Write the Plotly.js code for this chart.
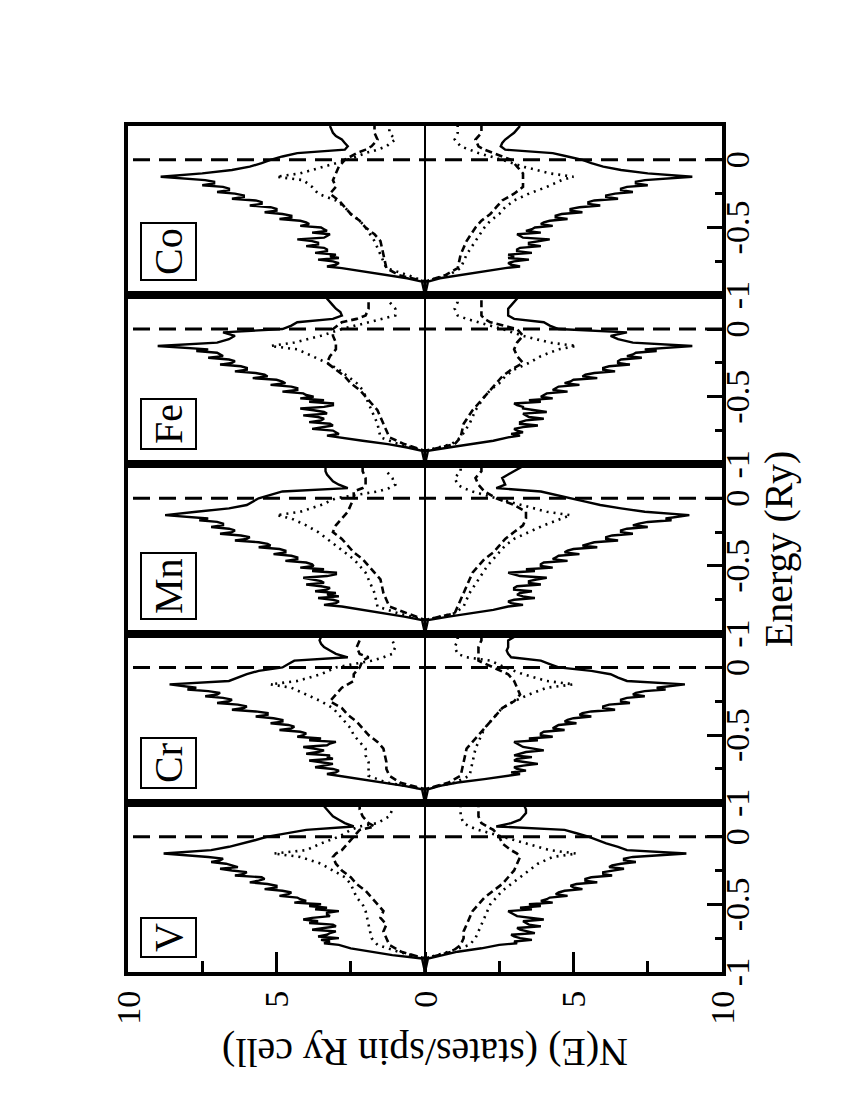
<!DOCTYPE html>
<html>
<head>
<meta charset="utf-8">
<script src="https://cdn.plot.ly/plotly-3.0.1.min.js"></script>
<style>
  html, body { margin: 0; padding: 0; width: 850px; height: 1100px; overflow: hidden; background: #fff; }
  #wrap { position: absolute; left: 0; top: 0; width: 1100px; height: 850px;
          transform-origin: 0 0; transform: translate(0px, 1100px) rotate(-90deg); }
</style>
</head>
<body>
<div id="wrap"></div>
<script>
// ---------------- data (energy in Ry, N(E) in states/spin Ry cell) ----------------
const metals = ['V', 'Cr', 'Mn', 'Fe', 'Co'];
const energyTickVals = [-1, -0.5, 0];
const energyTickText = ['-1', '-0.5', '0'];
const nTickVals = [-10, -5, 0, 5, 10];
const nTickText = ['10', '5', '0', '5', '10'];
const fermiEnergy = 0;

const E_FINE = [-1.0, -0.9, -0.875, -0.85, -0.825,
  -0.8, -0.7875, -0.775, -0.7625, -0.75, -0.7375, -0.725, -0.7125, -0.7, -0.6875, -0.675, -0.6625,
  -0.65, -0.6375, -0.625, -0.6125, -0.6, -0.5875, -0.575, -0.5625, -0.55, -0.5375, -0.525, -0.5125,
  -0.5, -0.4875, -0.475, -0.4625, -0.45, -0.4375, -0.425, -0.4125, -0.4, -0.3875, -0.375, -0.3625,
  -0.35, -0.3375, -0.325, -0.3125, -0.3, -0.2875, -0.275, -0.2625, -0.25, -0.2375, -0.225, -0.2125,
  -0.2, -0.1875, -0.175, -0.1625, -0.15,
  -0.125, -0.1, -0.075, -0.05, -0.025, 0, 0.025, 0.05, 0.075, 0.1, 0.125, 0.15, 0.175, 0.2, 0.225, 0.25];
const E_COARSE = [-1.0, -0.9, -0.85, -0.8, -0.75, -0.7, -0.65, -0.6, -0.55, -0.5, -0.45, -0.4, -0.35,
  -0.3, -0.25, -0.2, -0.15, -0.125, -0.1, -0.05, 0, 0.05, 0.075, 0.1, 0.15, 0.2, 0.25];

// V
const V_up = [0, 0.1, 1.1, 1.8, 2.5,
  2.9, 3.4, 3.2, 3.5, 2.9, 3.6, 3.3, 3.2, 3.0, 3.8, 3.4, 3.0, 3.1, 3.9, 3.6, 4.1, 3.8, 3.2, 3.3, 3.3, 2.9, 3.7,
  3.3, 3.9, 3.5, 4.4, 4.0, 4.2, 4.3, 4.9, 4.6, 4.5, 4.8, 5.4, 5.0, 5.0, 5.3, 5.9, 5.6, 5.4, 5.5, 6.4, 6.1, 6.0,
  6.5, 6.9, 6.3, 6.5, 6.7, 7.2, 6.9, 6.8, 7.3,
  8.8, 7.2, 6.6, 6.1, 5.7, 5.3, 4.7, 4.0, 2.4, 2.7, 2.9, 3.1, 3.2, 3.3, 3.4, 3.45];
const V_dn = [0, 0.1, 0.6, 1.1, 1.9,
  2.5, 3.1, 3.0, 3.6, 3.2, 3.0, 2.9, 3.7, 3.4, 3.2, 3.1, 3.9, 3.5, 3.4, 3.3, 4.0, 3.6, 3.1, 3.0, 2.9, 2.8, 3.6,
  3.2, 3.9, 3.5, 4.3, 3.9, 4.1, 4.2, 4.8, 4.4, 4.5, 4.7, 5.3, 5.0, 4.9, 5.1, 5.8, 5.4, 5.4, 5.6, 6.3, 6.0, 6.0,
  6.3, 6.7, 6.2, 6.3, 6.6, 7.1, 6.7, 6.7, 7.0,
  8.8, 6.8, 6.5, 6.1, 5.8, 5.5, 5.1, 4.7, 2.4, 2.9, 3.2, 3.3, 3.4, 3.4, 3.35, 3.3];
const V_upDot = [0, 0, 0.9, 1.6, 1.8, 1.85, 1.9, 1.95, 2.0, 2.1, 2.3, 2.4, 2.5, 2.7, 3.1, 3.5, 4.2, 5.1, 4.0, 3.5, 2.9, 2.5, 2.2, 1.6, 1.2, 1.1, 1.1];
const V_dnDot = [0, 0, 0.8, 1.5, 1.7, 1.8, 1.9, 2.0, 2.1, 2.2, 2.4, 2.6, 2.9, 3.2, 3.5, 3.8, 4.3, 5.1, 4.2, 3.4, 2.6, 1.8, 1.5, 1.3, 1.2, 1.2, 1.2];
const V_upDash = [0, 0, 0.8, 1.2, 1.3, 1.4, 1.3, 1.5, 1.4, 1.6, 1.8, 2.0, 2.3, 2.5, 2.8, 3.0, 3.1, 3.0, 2.8, 2.6, 2.4, 2.2, 1.7, 1.9, 2.1, 2.2, 2.2];
const V_dnDash = [0, 0, 0.9, 1.2, 1.3, 1.3, 1.4, 1.5, 1.6, 1.8, 2.0, 2.3, 2.6, 2.8, 3.0, 3.1, 3.2, 3.1, 2.9, 2.6, 2.5, 2.3, 2.1, 1.9, 1.8, 1.8, 1.8];

// Cr
const Cr_up = [0, 0.1, 0.7, 1.4, 2.2,
  2.8, 3.3, 3.0, 2.9, 3.1, 3.7, 3.4, 3.1, 3.5, 3.9, 3.1, 3.3, 3.2, 4.0, 3.6, 3.4, 3.75, 4.1, 3.3, 3.2, 3.0, 3.9,
  3.5, 4.3, 4.1, 4.0, 4.2, 4.9, 4.5, 4.4, 4.6, 5.2, 4.8, 4.8, 5.1, 5.7, 5.3, 5.3, 5.7, 6.5, 6.1, 6.0, 6.3, 7.0,
  6.6, 6.5, 6.8, 7.4, 7.0, 6.9, 7.3, 8.0, 7.7,
  8.6, 6.6, 6.3, 6.0, 5.6, 4.8, 4.6, 4.4, 2.6, 3.0, 3.2, 3.4, 3.5, 3.55, 3.5, 3.5];
const Cr_dn = [0, 0.1, 0.5, 1.1, 2.0,
  2.8, 3.2, 2.9, 3.4, 3.1, 3.0, 3.3, 3.8, 3.4, 3.0, 3.1, 3.6, 3.0, 3.2, 3.4, 4.0, 3.6, 3.3, 3.2, 3.1, 3.0, 3.8,
  3.5, 4.3, 3.9, 3.9, 4.0, 4.7, 4.3, 4.4, 4.5, 5.1, 4.7, 4.8, 5.0, 5.6, 5.2, 5.3, 5.6, 6.4, 6.0, 6.0, 6.2, 6.9,
  6.6, 6.6, 6.8, 7.4, 7.0, 7.1, 7.4, 8.1, 7.8,
  8.75, 6.8, 6.5, 6.25, 5.6, 4.5, 4.2, 3.9, 2.9, 2.8, 2.75, 2.8, 2.8, 2.8, 3.0, 3.2];
const Cr_upDot = [0, 0, 1.3, 1.9, 1.9, 1.9, 2.0, 2.0, 2.2, 2.4, 2.5, 2.7, 2.9, 3.1, 3.5, 4.0, 4.5, 5.2, 4.3, 3.5, 3.0, 1.8, 1.4, 1.1, 1.0, 1.1, 1.1];
const Cr_dnDot = [0, 0, 1.0, 1.5, 1.55, 1.6, 1.65, 1.7, 1.8, 1.9, 2.0, 2.2, 2.4, 2.6, 3.0, 3.5, 4.1, 5.0, 4.1, 3.3, 2.7, 2.2, 1.4, 1.1, 1.0, 1.1, 1.1];
const Cr_upDash = [0, 0, 0.85, 1.2, 1.3, 1.3, 1.35, 1.4, 1.6, 1.9, 2.1, 2.3, 2.6, 2.8, 3.2, 3.0, 2.8, 2.6, 2.4, 2.4, 2.2, 2.1, 1.9, 2.2, 2.3, 2.2, 2.2];
const Cr_dnDash = [0, 0, 0.8, 1.2, 1.25, 1.3, 1.35, 1.4, 1.6, 1.8, 2.0, 2.2, 2.4, 2.6, 3.0, 3.2, 3.1, 3.05, 3.0, 2.8, 2.3, 1.8, 1.8, 1.8, 1.8, 1.9, 1.9];

// Mn
const Mn_up = [0, 0.1, 0.7, 1.4, 2.2,
  2.8, 3.4, 3.0, 2.9, 3.1, 3.6, 2.9, 3.3, 3.0, 3.7, 3.3, 3.2, 3.5, 4.0, 3.4, 3.5, 3.75, 4.1, 3.3, 3.0, 3.0, 3.8,
  3.4, 4.2, 3.75, 3.8, 4.0, 4.7, 4.3, 4.3, 4.5, 5.1, 4.7, 4.7, 4.9, 5.6, 5.2, 5.3, 5.6, 6.4, 6.0, 5.9, 6.2, 6.9,
  6.5, 6.4, 6.6, 7.2, 6.8, 6.8, 7.0, 7.6, 7.3,
  8.75, 7.7, 6.6, 6.0, 5.8, 5.6, 5.2, 4.8, 2.6, 2.9, 3.1, 3.2, 3.3, 3.35, 3.35, 3.35];
const Mn_dn = [0, 0.1, 0.8, 1.5, 2.3,
  2.8, 3.3, 2.9, 2.8, 3.0, 3.7, 3.3, 3.1, 3.2, 3.6, 3.0, 3.0, 3.1, 3.9, 3.5, 3.5, 3.75, 4.1, 3.2, 3.0, 2.8, 3.7,
  3.4, 4.3, 3.9, 3.9, 4.0, 4.8, 4.3, 4.4, 4.5, 5.2, 4.7, 4.8, 5.0, 5.8, 5.3, 5.5, 5.7, 6.5, 6.1, 6.1, 6.3, 7.0,
  6.6, 6.6, 6.8, 7.5, 7.0, 7.2, 7.5, 8.3, 8.1,
  8.9, 7.4, 6.6, 5.9, 5.4, 4.9, 4.4, 3.9, 2.4, 2.7, 2.65, 2.6, 2.8, 3.0, 3.2, 3.4];
const Mn_upDot = [0, 0, 0.9, 1.6, 1.65, 1.7, 1.8, 1.9, 2.0, 2.2, 2.4, 2.7, 3.0, 3.3, 3.6, 4.0, 4.5, 5.0, 4.2, 3.5, 3.0, 1.6, 1.2, 1.0, 1.1, 1.3, 1.3];
const Mn_dnDot = [0, 0, 1.0, 1.3, 1.4, 1.5, 1.65, 1.8, 1.95, 2.1, 2.3, 2.5, 2.7, 3.0, 3.5, 4.0, 4.6, 4.9, 4.1, 3.2, 2.4, 1.6, 1.3, 1.1, 1.0, 1.2, 1.2];
const Mn_upDash = [0, 0, 0.6, 1.2, 1.3, 1.4, 1.45, 1.5, 1.7, 1.9, 2.1, 2.4, 2.6, 2.8, 3.1, 3.0, 2.8, 2.7, 2.6, 2.5, 2.4, 2.4, 2.1, 2.0, 2.0, 2.1, 2.1];
const Mn_dnDash = [0, 0, 1.0, 1.1, 1.2, 1.3, 1.4, 1.5, 1.6, 1.8, 2.0, 2.3, 2.5, 2.7, 3.0, 3.3, 3.4, 3.4, 3.4, 3.0, 2.4, 2.0, 1.9, 1.8, 1.7, 1.9, 1.9];

// Fe
const Fe_up = [0, 0.1, 0.6, 1.25, 2.1,
  2.8, 3.3, 2.9, 3.0, 3.1, 3.8, 3.4, 3.1, 3.2, 3.9, 3.5, 3.4, 3.6, 4.1, 3.3, 3.4, 3.75, 4.2, 3.4, 3.1, 3.1, 3.9,
  3.4, 4.2, 3.75, 4.0, 4.1, 4.8, 4.3, 4.3, 4.5, 5.2, 4.7, 4.8, 5.0, 5.8, 5.3, 5.4, 5.7, 6.4, 6.0, 6.0, 6.2, 6.9,
  6.5, 6.4, 6.6, 7.3, 6.8, 6.9, 7.0, 7.7, 7.3,
  9.0, 7.0, 6.6, 6.4, 6.8, 4.8, 4.5, 4.3, 3.1, 2.8, 2.85, 3.0, 3.1, 3.2, 3.3, 3.35];
const Fe_dn = [0, 0.1, 0.8, 1.5, 2.3,
  2.8, 3.2, 2.9, 3.3, 3.1, 3.0, 3.3, 3.8, 3.2, 3.2, 3.4, 4.0, 3.5, 3.4, 3.3, 4.1, 3.6, 3.3, 3.3, 3.1, 3.0, 3.9,
  3.5, 4.3, 3.9, 4.0, 4.1, 4.8, 4.3, 4.4, 4.5, 5.2, 4.7, 4.9, 5.0, 5.8, 5.3, 5.4, 5.7, 6.4, 6.0, 6.0, 6.2, 6.9,
  6.5, 6.5, 6.6, 7.3, 6.8, 7.0, 7.1, 7.8, 7.4,
  9.0, 7.0, 6.5, 6.25, 6.8, 4.5, 4.2, 4.0, 3.0, 2.8, 2.8, 2.8, 2.9, 3.0, 3.1, 3.2];
const Fe_upDot = [0, 0, 0.9, 1.5, 1.55, 1.6, 1.7, 1.8, 1.9, 2.0, 2.1, 2.3, 2.6, 2.9, 3.3, 3.8, 4.3, 5.2, 4.4, 3.5, 2.8, 1.9, 1.4, 1.0, 1.0, 1.2, 1.2];
const Fe_dnDot = [0, 0, 0.9, 1.2, 1.35, 1.5, 1.6, 1.7, 1.85, 2.0, 2.2, 2.5, 2.7, 3.0, 3.5, 3.9, 4.5, 5.1, 4.2, 3.3, 2.6, 1.8, 1.4, 1.1, 1.0, 1.1, 1.1];
const Fe_upDash = [0, 0, 0.7, 1.2, 1.3, 1.4, 1.5, 1.6, 1.8, 2.0, 2.2, 2.5, 2.7, 3.0, 3.3, 3.2, 3.0, 3.0, 3.0, 3.1, 3.1, 2.8, 2.3, 2.0, 1.9, 1.9, 1.9];
const Fe_dnDash = [0, 0, 1.0, 1.2, 1.25, 1.3, 1.45, 1.6, 1.8, 2.0, 2.2, 2.4, 2.6, 2.9, 3.3, 3.1, 3.0, 3.05, 3.1, 3.3, 3.1, 2.2, 2.0, 1.9, 1.9, 1.9, 1.9];

// Co
const Co_up = [0, 0.1, 0.6, 1.3, 2.1,
  2.8, 3.3, 3.0, 2.9, 3.1, 3.6, 2.9, 3.2, 3.0, 3.7, 3.3, 3.3, 3.4, 4.0, 3.6, 3.6, 3.8, 4.3, 3.4, 3.3, 3.2, 3.8,
  3.3, 3.4, 3.5, 4.2, 3.9, 4.0, 4.2, 4.9, 4.5, 4.5, 4.8, 5.4, 5.0, 5.0, 5.2, 5.9, 5.5, 5.5, 5.7, 6.5, 6.1, 6.1,
  6.4, 7.0, 6.6, 6.6, 6.8, 7.5, 7.1, 7.1, 7.4,
  8.9, 7.5, 6.5, 5.9, 5.5, 5.2, 4.8, 4.3, 2.7, 2.6, 2.7, 2.8, 3.0, 3.1, 3.15, 3.2];
const Co_dn = [0, 0.1, 0.5, 1.2, 2.0,
  2.7, 3.2, 2.9, 2.8, 3.0, 3.5, 2.8, 3.0, 2.8, 3.6, 3.1, 3.1, 3.2, 3.9, 3.5, 3.5, 3.8, 4.2, 3.3, 3.2, 3.1, 3.9,
  3.4, 3.6, 3.7, 4.3, 3.9, 4.0, 4.2, 4.8, 4.4, 4.4, 4.6, 5.3, 4.9, 4.9, 5.2, 5.9, 5.5, 5.5, 5.7, 6.5, 6.1, 6.1,
  6.4, 7.0, 6.6, 6.6, 6.8, 7.5, 7.1, 7.1, 7.4,
  9.0, 7.5, 6.6, 6.0, 5.6, 5.3, 4.8, 4.3, 2.7, 2.55, 2.6, 2.7, 2.85, 3.0, 3.1, 3.2];
const Co_upDot = [0, 0, 0.6, 1.3, 1.4, 1.5, 1.6, 1.7, 1.85, 2.0, 2.2, 2.5, 2.7, 3.0, 3.6, 3.8, 4.1, 5.0, 4.2, 3.4, 2.6, 2.0, 1.6, 1.3, 1.0, 1.2, 1.2];
const Co_dnDot = [0, 0, 0.8, 1.2, 1.3, 1.4, 1.55, 1.7, 1.85, 2.0, 2.2, 2.5, 2.7, 3.0, 3.5, 4.1, 4.6, 5.0, 4.2, 3.3, 2.6, 1.8, 1.5, 1.2, 1.0, 1.1, 1.1];
const Co_upDash = [0, 0, 0.9, 1.3, 1.35, 1.4, 1.45, 1.5, 1.7, 2.0, 2.2, 2.5, 2.7, 2.9, 3.2, 3.0, 3.1, 3.05, 3.0, 2.9, 2.7, 2.3, 2.0, 1.8, 1.6, 1.7, 1.7];
const Co_dnDash = [0, 0, 0.7, 1.1, 1.15, 1.2, 1.3, 1.4, 1.55, 1.7, 1.9, 2.2, 2.4, 2.6, 3.0, 3.3, 3.3, 3.3, 3.3, 3.1, 2.9, 2.3, 2.0, 1.8, 1.7, 1.9, 1.9];

const panelData = [
  [V_up, V_dn, V_upDot, V_dnDot, V_upDash, V_dnDash],
  [Cr_up, Cr_dn, Cr_upDot, Cr_dnDot, Cr_upDash, Cr_dnDash],
  [Mn_up, Mn_dn, Mn_upDot, Mn_dnDot, Mn_upDash, Mn_dnDash],
  [Fe_up, Fe_dn, Fe_upDot, Fe_dnDot, Fe_upDash, Fe_dnDash],
  [Co_up, Co_dn, Co_upDot, Co_dnDot, Co_upDash, Co_dnDash]
];

// ---------------- build ----------------
const FONT = 'Liberation Serif, Times New Roman, serif';
const neg = a => a.map(v => -v);
const solidLine = {color: '#000', width: 2.4};
const dotLine = {color: '#000', width: 2.6, dash: '2px,5px'};
const dashLine = {color: '#000', width: 2.6, dash: '7px,4px'};

const traces = [];
const layout = {
  width: 1100, height: 850,
  margin: {l: 128, r: 126, t: 128, b: 128, pad: 0},
  paper_bgcolor: '#fff', plot_bgcolor: '#fff',
  showlegend: false,
  font: {family: FONT, color: '#000', size: 34},
  shapes: [], annotations: []
};

metals.forEach((m, i) => {
  const sx = i === 0 ? '' : String(i + 1);
  const xa = 'x' + sx, ya = 'y' + sx;
  const [up, dn, upDot, dnDot, upDash, dnDash] = panelData[i];
  traces.push({x: E_FINE, y: up, xaxis: xa, yaxis: ya, mode: 'lines', line: solidLine, name: m + ' up'});
  traces.push({x: E_FINE, y: neg(dn), xaxis: xa, yaxis: ya, mode: 'lines', line: solidLine, name: m + ' down'});
  traces.push({x: E_COARSE, y: upDot, xaxis: xa, yaxis: ya, mode: 'lines', line: dotLine, name: m + ' up (dotted)'});
  traces.push({x: E_COARSE, y: neg(dnDot), xaxis: xa, yaxis: ya, mode: 'lines', line: dotLine, name: m + ' down (dotted)'});
  traces.push({x: E_COARSE, y: upDash, xaxis: xa, yaxis: ya, mode: 'lines', line: dashLine, name: m + ' up (dashed)'});
  traces.push({x: E_COARSE, y: neg(dnDash), xaxis: xa, yaxis: ya, mode: 'lines', line: dashLine, name: m + ' down (dashed)'});

  layout['xaxis' + sx] = {
    domain: [i / 5, (i + 1) / 5], anchor: ya,
    range: [-1, 0.25], fixedrange: true,
    showline: true, linewidth: 4, linecolor: '#000', mirror: true,
    showgrid: false, zeroline: false,
    ticks: 'inside', ticklen: 15, tickwidth: 3, tickcolor: '#000',
    tickmode: 'array', tickvals: energyTickVals, ticktext: energyTickText,
    minor: {tickmode: 'array', tickvals: [-0.75, -0.25], ticks: 'inside', ticklen: 7, tickwidth: 3, tickcolor: '#000', showgrid: false},
    tickfont: {family: FONT, size: 34, color: '#000'},
    ticklabelstandoff: -18,
    automargin: false
  };
  if (i === 2) {
    layout['xaxis' + sx].title = {text: 'Energy (Ry)', font: {family: FONT, size: 40, color: '#000'}, standoff: 0};
  }
  layout['yaxis' + sx] = {
    domain: [0, 1], anchor: xa,
    range: [-10, 10], fixedrange: true,
    showline: true, linewidth: 4, linecolor: '#000', mirror: true,
    showgrid: false,
    zeroline: true, zerolinewidth: 2.5, zerolinecolor: '#000',
    ticks: i === 0 ? 'inside' : '', ticklen: 20, tickwidth: 3, tickcolor: '#000',
    tickmode: 'array', tickvals: nTickVals, ticktext: nTickText,
    showticklabels: i === 0,
    tickfont: {family: FONT, size: 34, color: '#000'},
    ticklabelstandoff: 8,
    automargin: false
  };
  if (i === 0) {
    layout.yaxis.minor = {tickmode: 'array', tickvals: [-7.5, -2.5, 2.5, 7.5], ticks: 'inside', ticklen: 11, tickwidth: 3, tickcolor: '#000', showgrid: false};
    layout.yaxis.title = {text: 'N(E) (states/spin Ry cell)', font: {family: FONT, size: 40, color: '#000'}, standoff: 2};
  }

  layout.shapes.push({
    type: 'line', xref: xa, yref: ya + ' domain',
    x0: fermiEnergy, x1: fermiEnergy, y0: 0, y1: 1,
    line: {color: '#000', width: 3, dash: '17px,9px'}, layer: 'above'
  });
  layout.annotations.push({
    text: m, showarrow: false,
    xref: xa + ' domain', yref: ya + ' domain',
    x: 0, y: 1, xanchor: 'left', yanchor: 'top', xshift: 14, yshift: -12,
    font: {family: FONT, size: 40, color: '#000'},
    bordercolor: '#000', borderwidth: 2, borderpad: 4, bgcolor: '#fff'
  });
});

Plotly.newPlot('wrap', traces, layout, {staticPlot: true, displayModeBar: false});
</script>
</body>
</html>
